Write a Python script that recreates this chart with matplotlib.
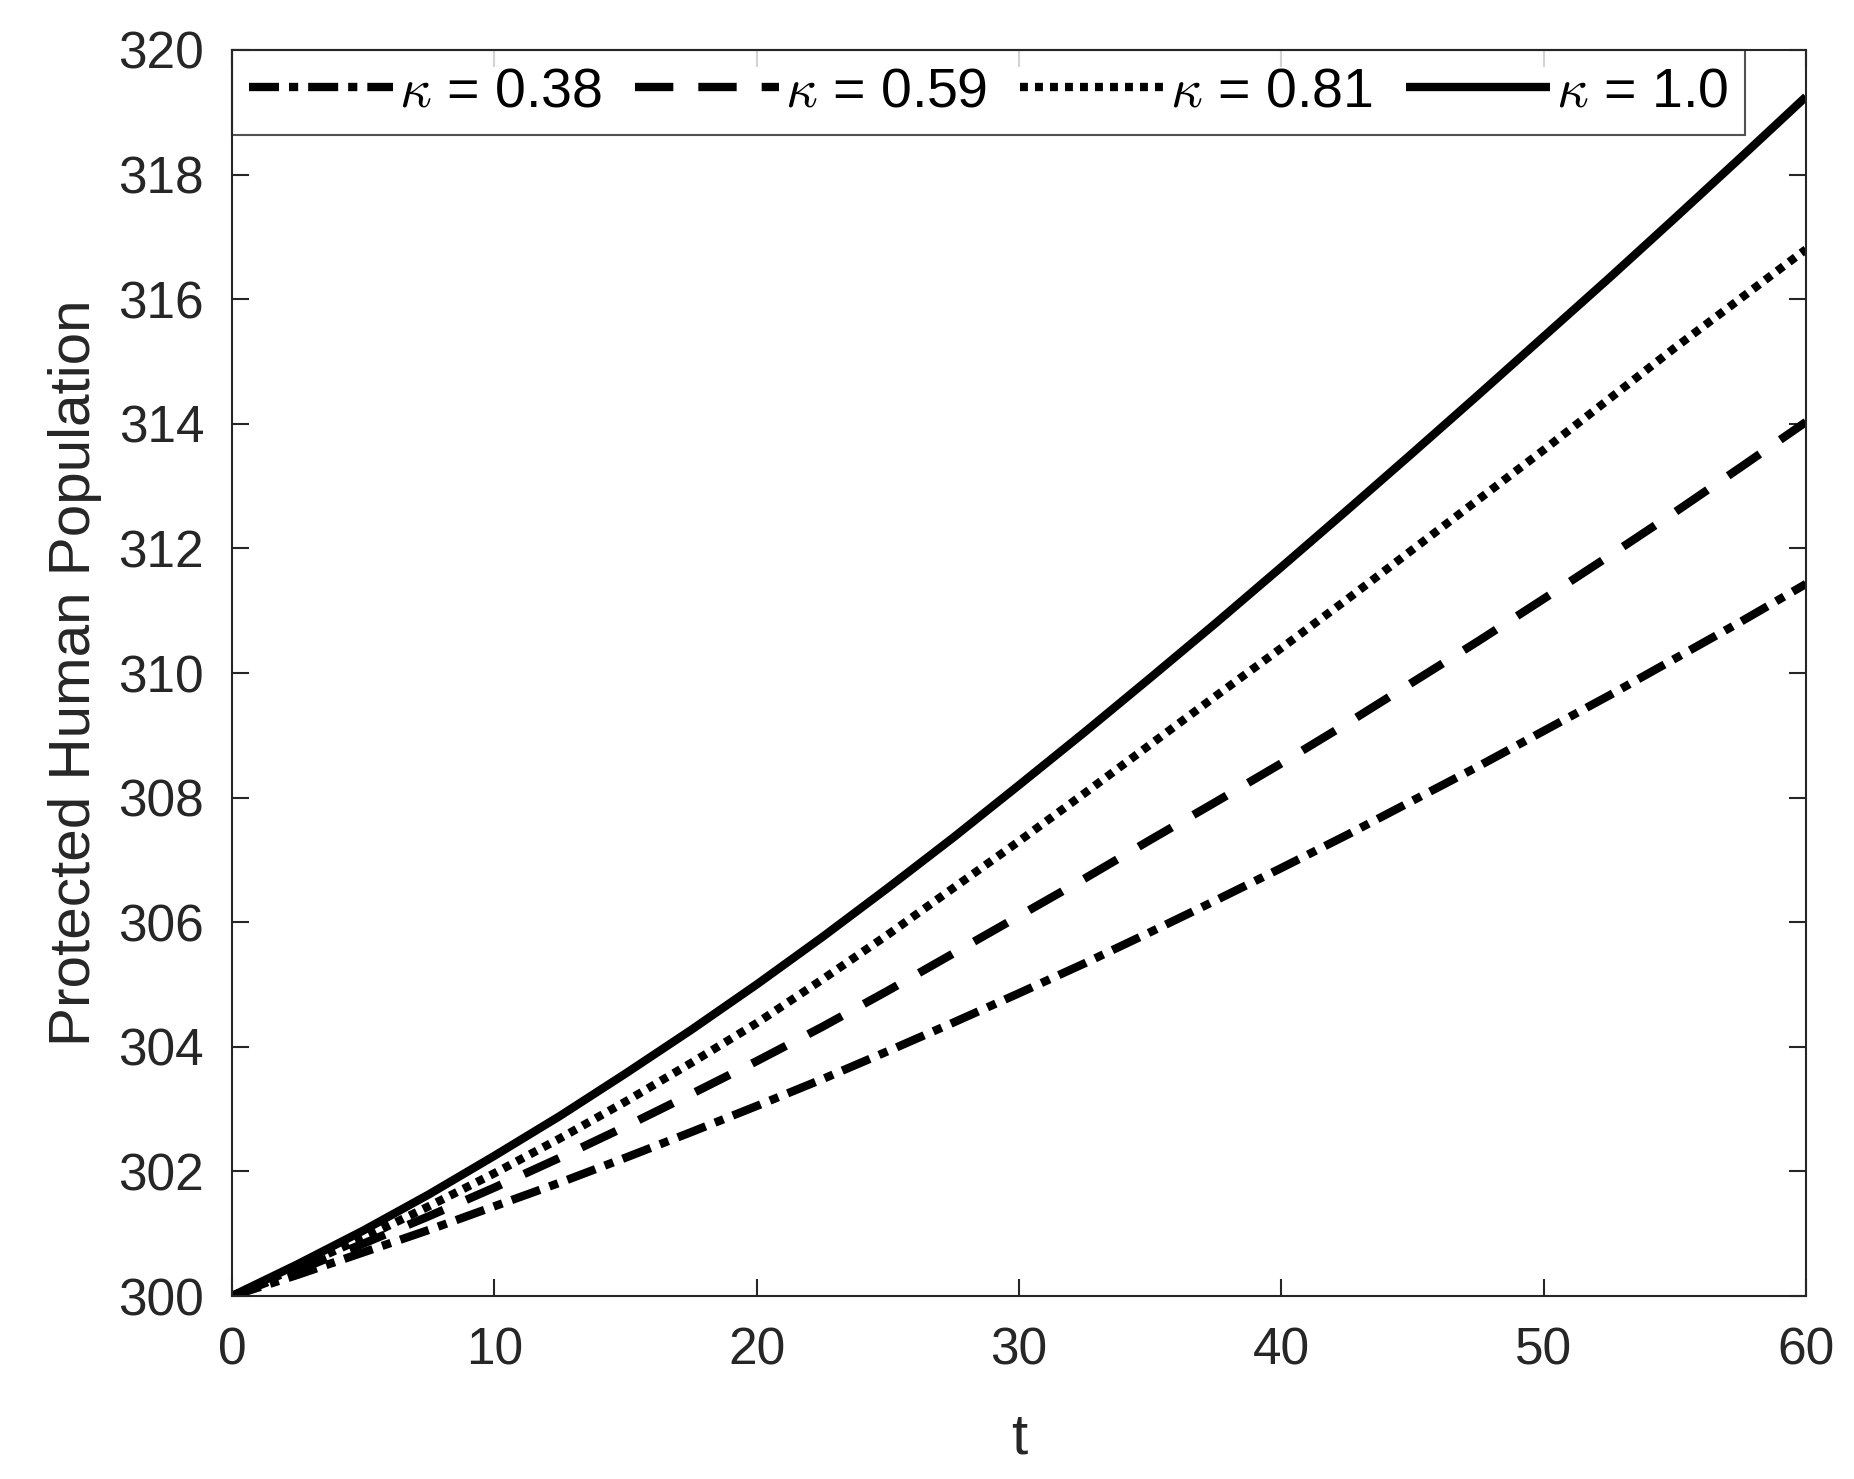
import numpy as np
import matplotlib
matplotlib.use("Agg")
import matplotlib.pyplot as plt

plt.rcParams["font.family"] = ["Liberation Sans", "DejaVu Sans"]
plt.rcParams["mathtext.fontset"] = "cm"

# time points and protected human population for each kappa
t = [0, 2.5, 5, 7.5, 10, 12.5, 15, 17.5, 20, 22.5, 25, 27.5, 30,
     32.5, 35, 37.5, 40, 42.5, 45, 47.5, 50, 52.5, 55, 57.5, 60]
p_038 = [300, 300.34, 300.70, 301.06, 301.44, 301.82, 302.22, 302.63, 303.05, 303.48, 303.93, 304.39, 304.86,
         305.34, 305.84, 306.35, 306.87, 307.40, 307.95, 308.50, 309.07, 309.64, 310.23, 310.82, 311.43]
p_059 = [300, 300.41, 300.84, 301.28, 301.74, 302.22, 302.72, 303.24, 303.77, 304.32, 304.90, 305.50, 306.10,
         306.70, 307.32, 307.93, 308.55, 309.19, 309.85, 310.51, 311.19, 311.88, 312.58, 313.30, 314.03]
p_081 = [300, 300.46, 300.93, 301.44, 301.97, 302.53, 303.12, 303.74, 304.38, 305.08, 305.80, 306.55, 307.30,
         308.07, 308.85, 309.63, 310.40, 311.18, 311.98, 312.78, 313.58, 314.40, 315.22, 316.01, 316.80]
p_100 = [300, 300.51, 301.05, 301.63, 302.25, 302.89, 303.57, 304.27, 305.00, 305.76, 306.55, 307.36, 308.20,
         309.05, 309.92, 310.80, 311.70, 312.61, 313.53, 314.46, 315.40, 316.34, 317.30, 318.27, 319.25]
labels = [r"$\kappa$ = 0.38", r"$\kappa$ = 0.59", r"$\kappa$ = 0.81", r"$\kappa$ = 1.0"]

xticks = list(range(0, 61, 10))
yticks = list(range(300, 321, 2))

dark = "#262626"
lw = 6

fig = plt.figure(figsize=(18.54, 14.79), dpi=100)
ax = fig.add_axes([0.1251, 0.1237, 0.849, 0.8425])

ax.plot(t, p_038, color="black", lw=lw, dashes=(3.6, 1.2, 1.1, 1.2), dash_capstyle="butt", label=labels[0])
ax.plot(t, p_059, color="black", lw=lw, dashes=(4.6, 3.0), dash_capstyle="butt", label=labels[1])
ax.plot(t, p_081, color="black", lw=lw, dashes=(0.95, 0.85), dash_capstyle="butt", label=labels[2])
ax.plot(t, p_100, color="black", lw=lw, solid_capstyle="butt", label=labels[3])

ax.set_xlim(0, 60)
ax.set_ylim(300, 320)
ax.set_xticks(xticks)
ax.set_yticks(yticks)
ax.tick_params(direction="in", length=12, width=1.5, colors=dark, labelsize=37,
               top=True, right=True, pad=20)
ax.tick_params(axis="x", pad=22)
for s in ax.spines.values():
    s.set_linewidth(1.5)
    s.set_color(dark)

ax.set_xlabel("t", fontsize=42, color=dark, labelpad=26)
ax.set_ylabel("Protected Human Population", fontsize=42, color=dark, labelpad=12)

leg = ax.legend(loc="upper left", ncol=4, fontsize=40, frameon=True, fancybox=False,
                borderaxespad=0.0, handlelength=2.6, handletextpad=0.1,
                columnspacing=0.6, borderpad=0.3)
leg.get_frame().set_edgecolor(dark)
leg.get_frame().set_linewidth(1.5)
leg.set_zorder(2.4)
for txt in leg.get_texts():
    txt.set_color("black")

fig.savefig("out.png", dpi=100)
